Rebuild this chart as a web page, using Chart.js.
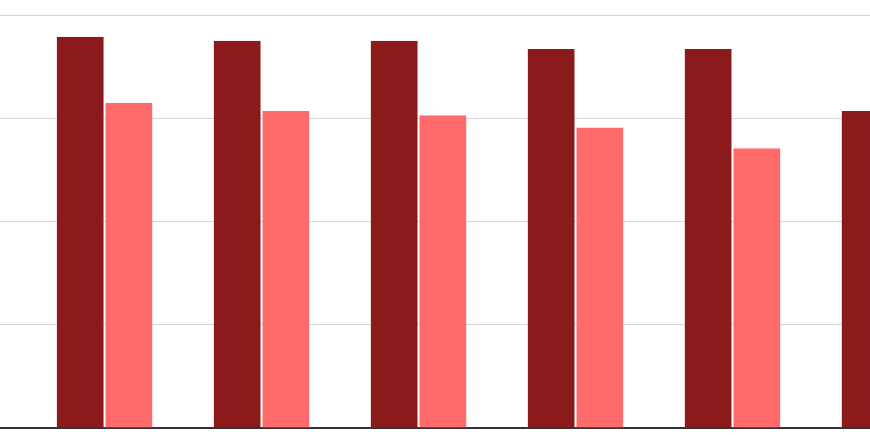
<!DOCTYPE html>
<html>
<head>
<meta charset="utf-8">
<script src="https://cdn.jsdelivr.net/npm/chart.js@4"></script>
<style>
  html, body { margin: 0; padding: 0; background: #fff; overflow: hidden; }
  #wrap { position: absolute; left: 0; top: 0; width: 870px; height: 435px; }
</style>
</head>
<body>
<div id="wrap"><canvas id="chart"></canvas></div>
<script>
// 类别（图中未显示标签）
const categories = ["1", "2", "3", "4", "5", "6"];
// 两组数值
const seriesA = [3.79, 3.75, 3.75, 3.67, 3.67, 3.07];
const seriesB = [3.15, 3.07, 3.03, 2.91, 2.71, 2.60];
const yTicks = [0, 1, 2, 3, 4];

// 图被裁切：可见范围（按类别序号）
const xMin = -0.666;
const xMax = 4.876;

const ctx = document.getElementById("chart").getContext("2d");

function toPoints(values) {
    return values.map((v, i) => ({ x: i, y: v, label: categories[i] }));
}

new Chart(ctx, {
    type: "bar",
    data: {
        datasets: [
            {
                label: "A",
                data: toPoints(seriesA),
                backgroundColor: "#8b1a1a",
                borderColor: "rgba(255,255,255,0.3)",
                borderWidth: { left: 1, right: 1, top: 0, bottom: 0 },
                categoryPercentage: 0.62,
                barPercentage: 1.0,
            },
            {
                label: "B",
                data: toPoints(seriesB),
                backgroundColor: "#ff6b6b",
                borderColor: "rgba(255,255,255,0.3)",
                borderWidth: { left: 1, right: 1, top: 0, bottom: 0 },
                categoryPercentage: 0.62,
                barPercentage: 1.0,
            },
        ],
    },
    options: {
        responsive: true,
        maintainAspectRatio: false,
        animation: false,
        layout: { padding: { top: 15, bottom: 7, left: 0, right: 0 } },
        plugins: {
            legend: { display: false },
            tooltip: { enabled: false },
        },
        scales: {
            x: {
                type: "linear",
                min: xMin,
                max: xMax,
                offset: false,
                // 刻度放在每个类别上，柱宽按类别间距计算
                afterBuildTicks: (axis) => {
                    axis.ticks = categories.map((c, i) => ({ value: i })).filter(t => t.value <= xMax);
                },
                ticks: { display: false },
                grid: { display: false, drawTicks: false },
                border: { display: true, color: "#333", width: 2 },
            },
            y: {
                min: yTicks[0],
                max: yTicks[yTicks.length - 1],
                afterBuildTicks: (axis) => { axis.ticks = yTicks.map(v => ({ value: v })); },
                ticks: { display: false },
                grid: { color: "#d6d6d6", drawTicks: false },
                border: { display: false },
            },
        },
    },
});
</script>
</body>
</html>
